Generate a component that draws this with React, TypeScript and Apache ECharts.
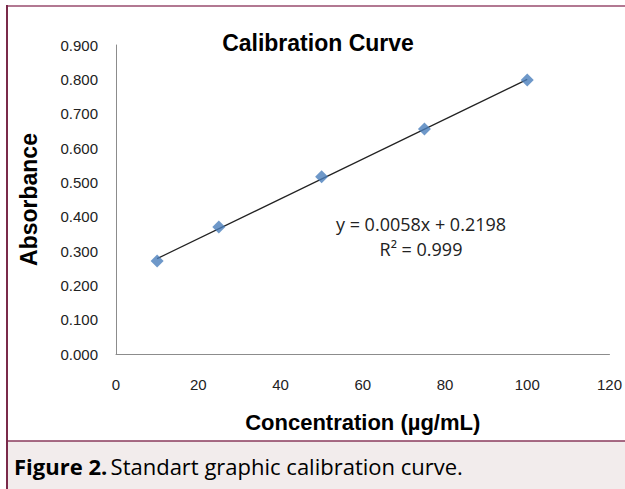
import React, { useEffect, useRef } from "react";
import * as echarts from "echarts";

const concentrations = [10, 25, 50, 75, 100];
const absorbances = [0.271, 0.37, 0.516, 0.655, 0.798];
const slope = 0.0058;
const intercept = 0.2198;
const trendX = [10, 100];
const equationLines = ["y = 0.0058x + 0.2198", "R² = 0.999"];

export default function App() {
  const ref = useRef<HTMLDivElement>(null);
  useEffect(() => {
    if (!ref.current) return;
    const chart = echarts.init(ref.current, null, { renderer: "svg" });
    const scatterData = concentrations.map((c, i) => [c, absorbances[i]]);
    const trendData = trendX.map((x) => [x, slope * x + intercept]);
    const axisFont = "Liberation Sans, Arial";
    chart.setOption({
      animation: false,
      backgroundColor: "#ffffff",
      grid: { left: 116, top: 45, right: 14, bottom: 135, containLabel: false },
      xAxis: {
        type: "value",
        min: 0,
        max: 120,
        interval: 20,
        name: "Concentration (µg/mL)",
        nameLocation: "middle",
        nameGap: 57,
        nameTextStyle: { fontFamily: axisFont, fontWeight: "bold", fontSize: 22, color: "#000" },
        axisLine: { lineStyle: { color: "#8c8c8c" } },
        axisTick: { show: false },
        splitLine: { show: false },
        axisLabel: { margin: 23, fontFamily: axisFont, fontSize: 15, color: "#222" },
      },
      yAxis: {
        type: "value",
        min: 0,
        max: 0.9,
        interval: 0.1,
        name: "Absorbance",
        nameLocation: "middle",
        nameGap: 76,
        nameTextStyle: { fontFamily: axisFont, fontWeight: "bold", fontSize: 23, color: "#000" },
        axisLine: { show: true, lineStyle: { color: "#8c8c8c" } },
        axisTick: { show: false },
        splitLine: { show: false },
        axisLabel: {
          margin: 18,
          fontFamily: axisFont,
          fontSize: 15,
          color: "#222",
          formatter: (v: number) => v.toFixed(3),
        },
      },
      series: [
        {
          type: "line",
          data: trendData,
          symbol: "none",
          lineStyle: { color: "#222", width: 1.2 },
          z: 1,
        },
        {
          type: "scatter",
          data: scatterData,
          symbol: "diamond",
          symbolSize: 13,
          itemStyle: { color: "#4a7ebb" },
          z: 2,
        },
      ],
      graphic: [
        { type: "rect", shape: { x: 7, y: 441, width: 618, height: 48 }, style: { fill: "#f2ecec" }, silent: true },
        { type: "line", shape: { x1: 7, y1: 441, x2: 625, y2: 441 }, style: { stroke: "#8a3a5c", lineWidth: 1.5 } },
        { type: "line", shape: { x1: 7, y1: 6, x2: 625, y2: 6 }, style: { stroke: "#b27892", lineWidth: 2 } },
        { type: "line", shape: { x1: 7, y1: 5, x2: 7, y2: 489 }, style: { stroke: "#7a2a4a", lineWidth: 2 } },
        {
          type: "text",
          x: 318,
          y: 43,
          style: {
            text: "Calibration Curve",
            font: "bold 23px 'Liberation Sans', Arial",
            fill: "#000",
            textAlign: "center",
            textVerticalAlign: "middle",
          },
        },
        {
          type: "text",
          x: 421,
          y: 224,
          style: {
            text: equationLines[0],
            font: "18px 'Open Sans'",
            fill: "#222",
            textAlign: "center",
            textVerticalAlign: "middle",
          },
        },
        {
          type: "text",
          x: 421,
          y: 249,
          style: {
            text: equationLines[1],
            font: "18px 'Open Sans'",
            fill: "#222",
            textAlign: "center",
            textVerticalAlign: "middle",
          },
        },
        {
          type: "text",
          x: 14,
          y: 466,
          style: {
            text: "{b|Figure 2.} {r|Standart graphic calibration curve.}",
            textVerticalAlign: "middle",
            rich: {
              b: { fontFamily: "Open Sans", fontWeight: "bold", fontSize: 22, color: "#222" },
              r: { fontFamily: "Open Sans", fontSize: 22, color: "#222" },
            },
          },
        },
      ],
    });
    return () => chart.dispose();
  }, []);
  return (
    <div
      ref={ref}
      style={{ position: "fixed", left: 0, top: 0, width: 625, height: 489 }}
    />
  );
}
